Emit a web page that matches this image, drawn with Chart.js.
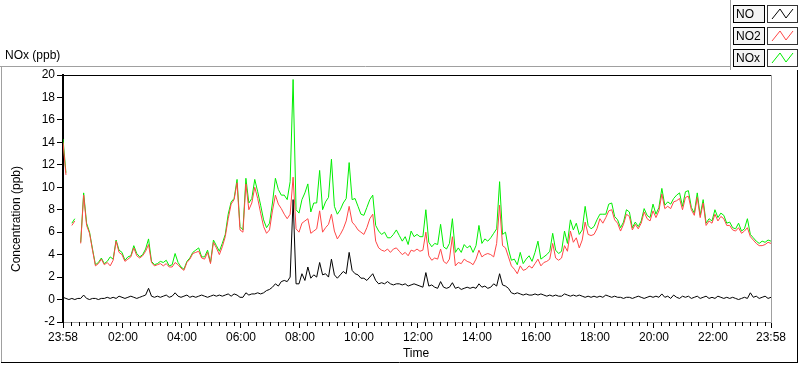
<!DOCTYPE html>
<html>
<head>
<meta charset="utf-8">
<script src="https://cdn.jsdelivr.net/npm/chart.js@4.4.1/dist/chart.umd.min.js"></script>
<style>
  html, body { margin: 0; padding: 0; background: #fff; }
  #wrap { position: relative; width: 800px; height: 365px; }
</style>
</head>
<body>
<div id="wrap"><canvas id="chart" width="800" height="365"></canvas></div>
<script>
'use strict';

// samples every 6 minutes, starting at 23:58
const STEP_MIN = 6;

const NO = [
  0.2, 0.1, 0.0, 0.1, 0.0, 0.1, 0.1, 0.4, 0.1, 0.0, 0.1, 0.1, 0.0, 0.1, 0.1, 0.2, 0.1, 0.2, 0.1, 0.3,
  0.2, 0.1, 0.2, 0.3, 0.2, 0.1, 0.2, 0.3, 0.4, 1.0, 0.3, 0.2, 0.3, 0.2, 0.3, 0.4, 0.2, 0.3, 0.6, 0.3,
  0.2, 0.3, 0.4, 0.2, 0.3, 0.2, 0.3, 0.4, 0.3, 0.2, 0.3, 0.4, 0.3, 0.4, 0.3, 0.4, 0.5, 0.3, 0.5, 0.4,
  0.2, 0.2, 0.6, 0.4, 0.5, 0.5, 0.6, 0.5, 0.6, 0.8, 0.9, 1.1, 1.4, 1.2, 1.6, 1.7, 1.6, 2.0, 8.9, 1.4,
  1.4, 2.3, 1.7, 2.9, 1.9, 2.2, 2.0, 3.3, 2.2, 2.3, 2.0, 3.6, 2.2, 1.9, 2.2, 2.5, 2.3, 4.2, 2.6, 2.3,
  2.2, 1.9, 1.9, 1.7, 2.0, 2.3, 1.7, 1.4, 1.5, 1.4, 1.6, 1.4, 1.3, 1.4, 1.4, 1.3, 1.4, 1.2, 1.3, 1.4,
  1.3, 1.2, 1.1, 2.4, 1.2, 1.3, 1.1, 1.0, 1.6, 1.1, 1.0, 1.1, 1.5, 1.0, 1.1, 0.9, 1.0, 1.1, 1.0, 1.1,
  1.0, 1.4, 1.1, 1.2, 1.0, 1.1, 1.4, 1.2, 2.3, 1.3, 1.2, 1.0, 0.6, 0.5, 0.6, 0.5, 0.4, 0.5, 0.4, 0.4,
  0.5, 0.4, 0.5, 0.4, 0.3, 0.4, 0.3, 0.4, 0.3, 0.3, 0.5, 0.4, 0.3, 0.4, 0.3, 0.4, 0.3, 0.2, 0.3, 0.2,
  0.3, 0.2, 0.3, 0.2, 0.4, 0.3, 0.2, 0.3, 0.2, 0.2, 0.1, 0.2, 0.2, 0.1, 0.2, 0.3, 0.2, 0.1, 0.2, 0.3,
  0.2, 0.3, 0.2, 0.5, 0.2, 0.3, 0.1, 0.4, 0.2, 0.1, 0.3, 0.2, 0.3, 0.1, 0.2, 0.3, 0.1, 0.2, 0.3, 0.1,
  0.2, 0.1, 0.3, 0.2, 0.1, 0.2, 0.1, 0.2, 0.1, 0.0, 0.1, 0.2, 0.1, 0.6, 0.2, 0.3, 0.1, 0.2, 0.3, 0.1,
  0.2
];

const NO2 = [
  14.0, 11.1, null, 6.6, 7.0, null, 5.0, 9.3, 6.6, 5.9, 4.4, 3.0, 3.2, 3.6, 3.1, 3.3, 3.0, 3.5, 5.2, 4.2,
  4.0, 3.4, 3.6, 3.8, 4.6, 3.9, 3.7, 3.9, 4.3, 4.9, 3.3, 3.0, 3.1, 3.2, 3.0, 3.2, 2.9, 2.9, 3.3, 3.1,
  2.8, 2.6, 3.3, 3.6, 4.1, 4.2, 4.3, 3.7, 3.6, 4.2, 3.2, 5.1, 4.6, 4.0, 4.7, 5.6, 7.2, 8.5, 8.9, 10.4,
  6.2, 6.0, 10.3, 8.0, 8.6, 10.0, 9.0, 7.7, 6.5, 5.9, 6.2, 7.9, 9.3, 8.5, 8.1, 7.6, 7.2, 7.6, 10.9, 6.3,
  6.0, 6.8, 7.0, 7.2, 5.9, 6.1, 6.3, 7.9, 6.0, 6.4, 6.7, 7.6, 6.1, 5.4, 5.8, 6.3, 7.0, 8.3, 6.9, 6.6,
  6.2, 6.0, 5.8, 6.4, 7.2, 7.6, 5.2, 4.6, 4.4, 4.3, 4.5, 4.2, 4.5, 4.6, 4.3, 4.0, 4.2, 3.9, 4.4, 4.3,
  4.5, 4.3, 4.4, 6.0, 3.9, 3.5, 3.7, 3.6, 4.5, 3.4, 3.2, 3.6, 5.6, 3.0, 3.3, 3.2, 3.6, 3.4, 3.3, 3.1,
  3.6, 4.4, 3.8, 4.0, 4.1, 4.0, 3.8, 5.0, 8.4, 4.8, 4.6, 3.8, 3.0, 2.7, 2.3, 3.0, 2.6, 2.7, 3.0, 2.8,
  3.2, 3.6, 3.0, 3.3, 3.4, 3.6, 5.0, 3.7, 3.5, 3.7, 4.8, 4.3, 6.1, 5.1, 5.5, 4.6, 5.3, 6.9, 5.8, 5.7,
  5.8, 6.3, 7.2, 6.8, 7.3, 7.9, 8.0, 7.1, 6.8, 6.1, 6.7, 7.6, 7.4, 6.2, 6.7, 6.3, 6.8, 7.8, 7.2, 7.0,
  7.9, 7.3, 7.9, 9.4, 8.1, 8.3, 8.1, 8.7, 8.8, 9.0, 8.0, 9.1, 9.2, 8.0, 7.5, 9.1, 7.3, 8.6, 6.6, 7.0,
  6.8, 7.6, 7.0, 7.4, 7.2, 6.6, 6.6, 6.2, 6.1, 6.4, 5.9, 6.1, 6.4, 5.6, 5.3, 5.0, 4.8, 4.8, 4.9, 5.1,
  5.0
];

const NOX = [
  14.3, 11.3, null, 6.8, 7.2, null, 5.1, 9.5, 6.8, 6.0, 4.5, 3.1, 3.3, 3.7, 3.2, 3.4, 3.8, 3.6, 5.3, 4.4,
  4.2, 3.5, 3.8, 3.9, 4.8, 4.1, 3.8, 4.0, 4.5, 5.4, 3.4, 3.1, 3.2, 3.4, 3.3, 3.5, 3.0, 3.1, 4.1, 3.3,
  2.9, 2.7, 3.4, 3.7, 4.2, 4.4, 4.6, 3.8, 3.8, 4.4, 3.3, 5.3, 4.8, 4.3, 5.0, 5.8, 7.6, 8.7, 9.0, 10.7,
  6.5, 6.2, 10.8, 8.6, 9.0, 10.7, 9.6, 8.4, 7.1, 6.4, 6.8, 8.6, 10.8, 9.8, 9.3, 9.3, 8.9, 10.5, 19.6, 8.0,
  7.7, 8.9, 9.5, 10.3, 7.8, 8.6, 8.6, 11.5, 8.0, 8.7, 9.1, 12.5, 8.3, 7.6, 8.0, 8.6, 9.0, 12.2, 8.9, 9.0,
  8.3, 7.6, 7.5, 8.2, 8.9, 9.3, 6.6, 6.1, 5.8, 6.0, 5.5, 5.5, 5.8, 6.2, 5.7, 5.2, 5.6, 4.9, 6.1, 5.6,
  5.8, 5.6, 5.6, 8.0, 5.1, 4.7, 5.0, 4.9, 6.7, 4.7, 4.5, 5.0, 7.2, 4.2, 4.6, 4.2, 4.9, 4.6, 4.8, 4.2,
  4.8, 6.6, 5.0, 5.4, 5.2, 5.5, 5.9, 6.3, 10.5, 5.8, 6.0, 4.5, 3.5, 3.6, 3.1, 4.2, 3.2, 3.6, 3.9, 3.4,
  4.2, 5.2, 3.6, 3.8, 4.0, 4.3, 5.9, 4.4, 4.1, 4.3, 6.1, 5.0, 7.1, 6.2, 6.8, 5.8, 6.2, 8.3, 6.6, 6.3,
  6.5, 7.1, 7.6, 7.6, 7.6, 8.5, 8.6, 7.4, 7.1, 6.4, 6.9, 8.0, 7.8, 6.4, 6.9, 6.5, 7.0, 8.1, 7.5, 7.3,
  8.5, 7.6, 8.2, 9.9, 8.4, 8.7, 8.5, 9.0, 9.3, 9.5, 8.3, 9.6, 9.7, 8.2, 7.7, 9.5, 7.5, 8.9, 6.8, 7.2,
  7.0, 8.0, 7.3, 7.7, 7.5, 6.8, 6.9, 6.4, 6.3, 6.8, 6.1, 6.3, 7.2, 5.8, 5.5, 5.2, 5.0, 5.2, 5.1, 5.3,
  5.2
];

const seriesNames  = ['NO', 'NO2', 'NOx'];
const seriesColors = ['#000000', '#ff4646', '#00ee00'];

// minutes after 23:58
const majorTicks  = [0, 122, 242, 362, 482, 602, 722, 842, 962, 1082, 1202, 1322, 1440];
const majorLabels = ['23:58', '02:00', '04:00', '06:00', '08:00', '10:00', '12:00',
                     '14:00', '16:00', '18:00', '20:00', '22:00', '23:58'];

const FONT = '"Liberation Sans", Arial, sans-serif';
Chart.defaults.font.family = FONT;
Chart.defaults.font.size = 12;
Chart.defaults.color = '#000';

const toPts = arr => arr.map((v, i) => ({ x: i * STEP_MIN, y: v }));

// frame, titles, minor ticks and the LabVIEW-like legend
const decor = {
  id: 'decor',
  afterDraw(chart) {
    const ctx = chart.ctx;
    const a = chart.chartArea;
    const xs = chart.scales.x;
    ctx.save();

    // outer panel
    ctx.lineWidth = 1;
    ctx.strokeStyle = '#a0a0a0';
    ctx.beginPath();
    ctx.moveTo(0, 66.5); ctx.lineTo(731, 66.5);
    ctx.moveTo(1.5, 66); ctx.lineTo(1.5, 363);
    ctx.moveTo(730.5, 0); ctx.lineTo(730.5, 70);
    ctx.stroke();
    ctx.strokeStyle = '#000';
    ctx.beginPath();
    ctx.moveTo(1, 362.5); ctx.lineTo(798, 362.5);
    ctx.moveTo(797.5, 70); ctx.lineTo(797.5, 363);
    ctx.stroke();

    // plot box: black top, grey right
    ctx.beginPath();
    ctx.moveTo(a.left, a.top + 0.5); ctx.lineTo(a.right, a.top + 0.5);
    ctx.stroke();
    ctx.strokeStyle = '#a0a0a0';
    ctx.beginPath();
    ctx.moveTo(a.right + 0.5, a.top); ctx.lineTo(a.right + 0.5, a.bottom);
    ctx.stroke();

    // minor ticks on the quarter hour
    ctx.strokeStyle = '#000';
    ctx.beginPath();
    for (let m = 2; m < 1440; m += 15) {
      if (majorTicks.some(t => Math.abs(t - m) < 4)) continue;
      const px = Math.round(xs.getPixelForValue(m)) + 0.5;
      ctx.moveTo(px, a.bottom); ctx.lineTo(px, a.bottom + 4);
    }
    ctx.stroke();

    // texts
    ctx.fillStyle = '#000';
    ctx.font = '12px ' + FONT;
    ctx.textBaseline = 'middle';
    ctx.textAlign = 'left';
    ctx.fillText('NOx (ppb)', 5, 56);
    ctx.textAlign = 'center';
    ctx.fillText('Time', 416, 354);
    ctx.save();
    ctx.translate(17, 219);
    ctx.rotate(-Math.PI / 2);
    ctx.fillText('Concentration (ppb)', 0, 0);
    ctx.restore();

    // legend
    const rowTop = [5, 27, 49];
    seriesNames.forEach((name, k) => {
      const y = rowTop[k];
      ctx.fillStyle = '#f4f4f4';
      ctx.fillRect(733, y, 31, 17);
      ctx.strokeStyle = '#000';
      ctx.strokeRect(733.5, y + 0.5, 31, 17);
      ctx.fillStyle = '#000';
      ctx.textAlign = 'left';
      ctx.fillText(name, 736, y + 9.5);
      ctx.fillStyle = '#fff';
      ctx.fillRect(767, y, 30, 17);
      ctx.strokeStyle = '#333';
      ctx.strokeRect(767.5, y + 0.5, 30, 17);
      ctx.strokeStyle = seriesColors[k];
      ctx.beginPath();
      ctx.moveTo(772, y + 14); ctx.lineTo(780, y + 4);
      ctx.lineTo(786, y + 13); ctx.lineTo(793, y + 4);
      ctx.stroke();
    });

    ctx.restore();
  }
};

new Chart(document.getElementById('chart').getContext('2d'), {
  type: 'line',
  data: {
    datasets: [
      { label: seriesNames[0], data: toPts(NO),  borderColor: seriesColors[0], order: 1 },
      { label: seriesNames[1], data: toPts(NO2), borderColor: seriesColors[1], order: 2 },
      { label: seriesNames[2], data: toPts(NOX), borderColor: seriesColors[2], order: 3 }
    ]
  },
  options: {
    responsive: false,
    devicePixelRatio: 1,
    animation: false,
    spanGaps: false,
    layout: { padding: { left: 0, top: 75, right: 29, bottom: 0 } },
    elements: {
      line: { borderWidth: 1, tension: 0, fill: false },
      point: { radius: 0 }
    },
    plugins: { legend: { display: false }, tooltip: { enabled: false } },
    scales: {
      x: {
        type: 'linear', min: 0, max: 1440,
        afterFit: s => { s.height = 43; },
        afterBuildTicks: s => { s.ticks = majorTicks.map(v => ({ value: v })); },
        ticks: { autoSkip: false, maxRotation: 0, padding: 2,
                 callback: (v, i) => majorLabels[i] },
        grid: { drawOnChartArea: false, tickLength: 6, color: '#000' },
        border: { display: true, color: '#a0a0a0', width: 1 }
      },
      y: {
        min: -2, max: 20,
        afterFit: s => { s.width = 63; },
        ticks: { stepSize: 2, padding: 2 },
        grid: { drawOnChartArea: false, tickLength: 6, color: '#000' },
        border: { display: true, color: '#000', width: 2 }
      }
    }
  },
  plugins: [decor]
});
</script>
</body>
</html>
